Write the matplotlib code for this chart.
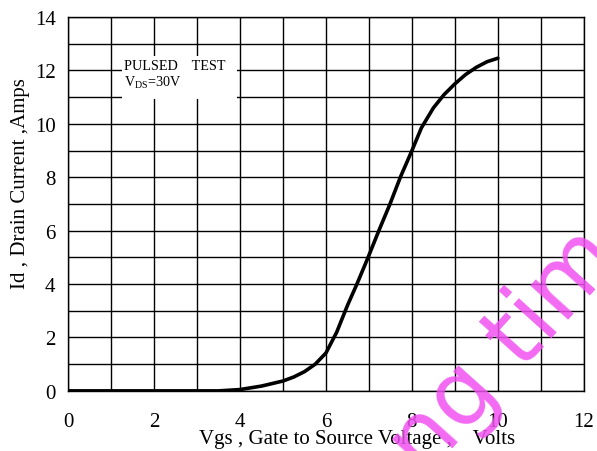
import numpy as np
import matplotlib.pyplot as plt
from matplotlib.patches import Rectangle

plt.rcParams['font.family'] = ['Liberation Serif', 'DejaVu Serif']
plt.rcParams['mathtext.fontset'] = 'custom'
plt.rcParams['mathtext.rm'] = 'Liberation Serif'

# Id vs Vgs transfer curve
vgs = [0, 1, 2, 3, 3.5, 4, 4.5, 5, 5.25, 5.5, 5.75, 6, 6.25, 6.5, 6.72, 6.98, 7.23,
       7.49, 7.73, 8.0, 8.22, 8.5, 8.75, 9.0, 9.25, 9.5, 9.75, 10]
id_amps = [0, 0, 0, 0, 0.0, 0.05, 0.18, 0.37, 0.52, 0.72, 1.0, 1.42, 2.2, 3.2, 4.0, 5.0, 6.0,
           7.0, 8.0, 9.0, 9.85, 10.6, 11.1, 11.5, 11.85, 12.12, 12.33, 12.46]

x_ticks = [0, 2, 4, 6, 8, 10, 12]
y_ticks = [0, 2, 4, 6, 8, 10, 12, 14]

fig = plt.figure(figsize=(5.97, 4.52), dpi=100)
ax = fig.add_axes([0.114, 0.133, 0.864, 0.827])

ax.set_xlim(0, 12)
ax.set_ylim(0, 14)
ax.set_xticks(x_ticks)
ax.set_yticks(y_ticks)
ax.set_xticks(np.arange(0, 13, 1), minor=True)
ax.set_yticks(np.arange(0, 15, 1), minor=True)
ax.grid(which='both', color='black', linewidth=1.0)
ax.set_axisbelow(True)
ax.tick_params(which='both', length=0, labelsize=15)
ax.tick_params(axis='x', pad=15)
ax.tick_params(axis='y', pad=9)
for s in ax.spines.values():
    s.set_linewidth(1.0)

# white box behind the note
ax.add_patch(Rectangle((1.26, 10.95), 2.67, 1.6, facecolor='white',
                       edgecolor='none', zorder=1.5))
ax.text(1.3, 12.2, 'PULSED    TEST', fontsize=10.2, va='center', zorder=2)
ax.text(1.3, 11.57, r'V$_{\rm DS}$=30V', fontsize=10.2, va='center', zorder=2)

ax.plot(vgs, id_amps, color='black', linewidth=2.6, zorder=3,
        solid_joinstyle='round', solid_capstyle='round')

ax.set_xlabel('Vgs , Gate to Source Voltage ,    Volts', fontsize=15, va='center')
ax.xaxis.set_label_coords(0.56, -0.128)
ax.set_ylabel('Id , Drain Current ,Amps', fontsize=15, va='center')
ax.yaxis.set_label_coords(-0.093, 0.556)

fig.text(505 / 597, 1 - 352 / 452, 'ng tim', color='#f050f0', fontsize=66,
         rotation=48, ha='center', va='center', family='DejaVu Sans',
         alpha=0.85, zorder=0)

fig.savefig('out.png', dpi=100)
